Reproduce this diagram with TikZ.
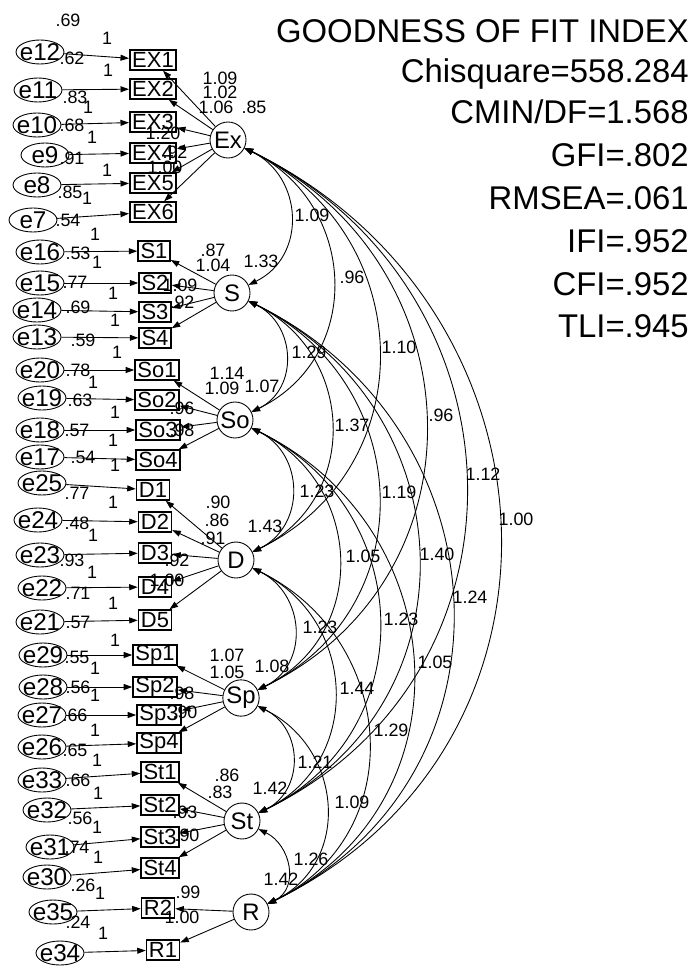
\documentclass[tikz,border=0pt]{standalone}
\usepackage{fontspec}
\setmainfont{Liberation Sans}
\usetikzlibrary{shapes.geometric,arrows.meta}

\begin{document}
\begin{tikzpicture}[
  x=0.02cm, y=0.02cm,
  every node/.style={inner sep=0pt},
  lat/.style={circle, draw, line width=0.5pt, minimum size=0.72cm,
              font=\fontsize{13.6}{14}\selectfont},
  obs/.style={draw, line width=0.9pt, minimum height=0.4cm, minimum width=0.64cm,
              inner xsep=0.05cm, font=\fontsize{12.5}{13}\selectfont},
  err/.style={ellipse, draw, line width=0.5pt, minimum width=0.96cm,
              minimum height=0.48cm, inner xsep=-0.1cm, inner ysep=-0.03cm,
              font=\fontsize{13.8}{14}\selectfont},
  est/.style={font=\fontsize{10.2}{11}\selectfont},
  gof/.style={anchor=base east, font=\fontsize{18.7}{20}\selectfont},
  reg/.style={-{Triangle[length=4.8pt, width=3.4pt]}, line width=0.5pt},
  cov/.style={{Triangle[length=4.8pt, width=3.4pt]}-{Triangle[length=4.8pt, width=3.4pt]},
              line width=0.5pt},
  bow/.style={out=-26, in=26, looseness=1.22},
]
  \useasboundingbox (0,0) rectangle (697,-966);
  % latent variables
  \node[lat] (Ex) at (228,-140) {Ex};
  \node[lat] (S) at (232,-293) {S};
  \node[lat] (So) at (235,-420) {So};
  \node[lat] (D) at (236,-560) {D};
  \node[lat] (Sp) at (241,-698) {Sp};
  \node[lat] (St) at (242,-821) {St};
  \node[lat] (R) at (251,-912) {R};
  % observed variables
  \node[obs] (ex1) at (153,-60) {EX1};
  \node[obs] (ex2) at (153,-89) {EX2};
  \node[obs] (ex3) at (153,-122) {EX3};
  \node[obs] (ex4) at (153,-153) {EX4};
  \node[obs] (ex5) at (153,-183) {EX5};
  \node[obs] (ex6) at (153,-212) {EX6};
  \node[obs] (s1) at (154,-251) {S1};
  \node[obs] (s2) at (155,-283) {S2};
  \node[obs] (s3) at (155,-312) {S3};
  \node[obs] (s4) at (155,-338) {S4};
  \node[obs] (so1) at (157,-370) {So1};
  \node[obs] (so2) at (157,-400) {So2};
  \node[obs] (so3) at (158,-430) {So3};
  \node[obs] (so4) at (158,-460) {So4};
  \node[obs] (d1) at (153,-490) {D1};
  \node[obs] (d2) at (155,-522) {D2};
  \node[obs] (d3) at (155,-553) {D3};
  \node[obs] (d4) at (155,-587) {D4};
  \node[obs] (d5) at (155,-620) {D5};
  \node[obs] (sp1) at (155,-655) {Sp1};
  \node[obs] (sp2) at (155,-687) {Sp2};
  \node[obs] (sp3) at (159,-715) {Sp3};
  \node[obs] (sp4) at (159,-743) {Sp4};
  \node[obs] (st1) at (160,-772) {St1};
  \node[obs] (st2) at (160,-805) {St2};
  \node[obs] (st3) at (160,-837) {St3};
  \node[obs] (st4) at (160,-868) {St4};
  \node[obs] (r2) at (158,-908) {R2};
  \node[obs] (r1) at (163,-950) {R1};
  % error terms
  \node[err] (e12) at (40,-52) {e12};
  \node[err] (e11) at (38,-90) {e11};
  \node[err] (e10) at (37,-125) {e10};
  \node[err] (e9) at (45,-155) {e9};
  \node[err] (e8) at (37,-185) {e8};
  \node[err] (e7) at (33,-220) {e7};
  \node[err] (e16) at (40,-252) {e16};
  \node[err] (e15) at (40,-283) {e15};
  \node[err] (e14) at (37,-310) {e14};
  \node[err] (e13) at (37,-337) {e13};
  \node[err] (e20) at (40,-370) {e20};
  \node[err] (e19) at (42,-398) {e19};
  \node[err] (e18) at (40,-430) {e18};
  \node[err] (e17) at (40,-457) {e17};
  \node[err] (e25) at (42,-483) {e25};
  \node[err] (e24) at (38,-520) {e24};
  \node[err] (e23) at (40,-555) {e23};
  \node[err] (e22) at (42,-588) {e22};
  \node[err] (e21) at (40,-622) {e21};
  \node[err] (e29) at (43,-655) {e29};
  \node[err] (e28) at (43,-687) {e28};
  \node[err] (e27) at (42,-715) {e27};
  \node[err] (e26) at (42,-747) {e26};
  \node[err] (e33) at (42,-780) {e33};
  \node[err] (e32) at (47,-810) {e32};
  \node[err] (e31) at (50,-847) {e31};
  \node[err] (e30) at (47,-877) {e30};
  \node[err] (e35) at (53,-912) {e35};
  \node[err] (e34) at (60,-953) {e34};
  % error paths
  \draw[reg] (e12) -- (ex1);
  \draw[reg] (e11) -- (ex2);
  \draw[reg] (e10) -- (ex3);
  \draw[reg] (e9) -- (ex4);
  \draw[reg] (e8) -- (ex5);
  \draw[reg] (e7) -- (ex6);
  \draw[reg] (e16) -- (s1);
  \draw[reg] (e15) -- (s2);
  \draw[reg] (e14) -- (s3);
  \draw[reg] (e13) -- (s4);
  \draw[reg] (e20) -- (so1);
  \draw[reg] (e19) -- (so2);
  \draw[reg] (e18) -- (so3);
  \draw[reg] (e17) -- (so4);
  \draw[reg] (e25) -- (d1);
  \draw[reg] (e24) -- (d2);
  \draw[reg] (e23) -- (d3);
  \draw[reg] (e22) -- (d4);
  \draw[reg] (e21) -- (d5);
  \draw[reg] (e29) -- (sp1);
  \draw[reg] (e28) -- (sp2);
  \draw[reg] (e27) -- (sp3);
  \draw[reg] (e26) -- (sp4);
  \draw[reg] (e33) -- (st1);
  \draw[reg] (e32) -- (st2);
  \draw[reg] (e31) -- (st3);
  \draw[reg] (e30) -- (st4);
  \draw[reg] (e35) -- (r2);
  \draw[reg] (e34) -- (r1);
  % loadings
  \draw[reg] (Ex) -- (ex1);
  \draw[reg] (Ex) -- (ex2);
  \draw[reg] (Ex) -- (ex3);
  \draw[reg] (Ex) -- (ex4);
  \draw[reg] (Ex) -- (ex5);
  \draw[reg] (Ex) -- (ex6);
  \draw[reg] (S) -- (s1);
  \draw[reg] (S) -- (s2);
  \draw[reg] (S) -- (s3);
  \draw[reg] (S) -- (s4);
  \draw[reg] (So) -- (so1);
  \draw[reg] (So) -- (so2);
  \draw[reg] (So) -- (so3);
  \draw[reg] (So) -- (so4);
  \draw[reg] (D) -- (d1);
  \draw[reg] (D) -- (d2);
  \draw[reg] (D) -- (d3);
  \draw[reg] (D) -- (d4);
  \draw[reg] (D) -- (d5);
  \draw[reg] (Sp) -- (sp1);
  \draw[reg] (Sp) -- (sp2);
  \draw[reg] (Sp) -- (sp3);
  \draw[reg] (Sp) -- (sp4);
  \draw[reg] (St) -- (st1);
  \draw[reg] (St) -- (st2);
  \draw[reg] (St) -- (st3);
  \draw[reg] (St) -- (st4);
  \draw[reg] (R) -- (r2);
  \draw[reg] (R) -- (r1);
  % covariances
  \draw[cov] (Ex) to[bow] (S);
  \draw[cov] (Ex) to[bow] (So);
  \draw[cov] (Ex) to[bow] (D);
  \draw[cov] (Ex) to[bow] (Sp);
  \draw[cov] (Ex) to[bow] (St);
  \draw[cov] (Ex) to[bow] (R);
  \draw[cov] (S) to[bow] (So);
  \draw[cov] (S) to[bow] (D);
  \draw[cov] (S) to[bow] (Sp);
  \draw[cov] (S) to[bow] (St);
  \draw[cov] (S) to[bow] (R);
  \draw[cov] (So) to[bow] (D);
  \draw[cov] (So) to[bow] (Sp);
  \draw[cov] (So) to[bow] (St);
  \draw[cov] (So) to[bow] (R);
  \draw[cov] (D) to[bow] (Sp);
  \draw[cov] (D) to[bow] (St);
  \draw[cov] (D) to[bow] (R);
  \draw[cov] (Sp) to[bow] (St);
  \draw[cov] (Sp) to[bow] (R);
  \draw[cov] (St) to[bow] (R);
  % error variances
  \node[est] (v12) at (68,-20) {.69};
  \node[est] (v11) at (72,-58) {.62};
  \node[est] (v10) at (75,-97) {.83};
  \node[est] (v9) at (72,-125) {.68};
  \node[est] (v8) at (72,-158) {.91};
  \node[est] (v7) at (70,-192) {.85};
  \node[est] (v16) at (68,-220) {.54};
  \node[est] (v15) at (78,-253) {.53};
  \node[est] (v14) at (75,-282) {.77};
  \node[est] (v13) at (78,-307) {.69};
  \node[est] (v20) at (83,-340) {.59};
  \node[est] (v19) at (78,-370) {.78};
  \node[est] (v18) at (80,-400) {.63};
  \node[est] (v17) at (77,-430) {.57};
  \node[est] (v25) at (83,-457) {.54};
  \node[est] (v24) at (77,-493) {.77};
  \node[est] (v23) at (77,-523) {.48};
  \node[est] (v22) at (72,-560) {.93};
  \node[est] (v21) at (78,-593) {.71};
  \node[est] (v29) at (78,-622) {.57};
  \node[est] (v28) at (77,-657) {.55};
  \node[est] (v27) at (78,-687) {.56};
  \node[est] (v26) at (75,-715) {.66};
  \node[est] (v33) at (75,-750) {.65};
  \node[est] (v32) at (78,-780) {.66};
  \node[est] (v31) at (80,-818) {.56};
  \node[est] (v30) at (77,-847) {.74};
  \node[est] (v35) at (83,-885) {.26};
  \node[est] (v34) at (78,-922) {.24};
  % fixed error weights
  \node[est] (w12) at (107,-38) {1};
  \node[est] (w11) at (108,-70) {1};
  \node[est] (w10) at (88,-107) {1};
  \node[est] (w9) at (92,-137) {1};
  \node[est] (w8) at (107,-170) {1};
  \node[est] (w7) at (87,-198) {1};
  \node[est] (w16) at (95,-234) {1};
  \node[est] (w15) at (97,-262) {1};
  \node[est] (w14) at (113,-293) {1};
  \node[est] (w13) at (115,-320) {1};
  \node[est] (w20) at (117,-352) {1};
  \node[est] (w19) at (93,-382) {1};
  \node[est] (w18) at (115,-412) {1};
  \node[est] (w17) at (113,-440) {1};
  \node[est] (w25) at (115,-465) {1};
  \node[est] (w24) at (113,-502) {1};
  \node[est] (w23) at (93,-535) {1};
  \node[est] (w22) at (92,-572) {1};
  \node[est] (w21) at (113,-603) {1};
  \node[est] (w29) at (115,-640) {1};
  \node[est] (w28) at (95,-668) {1};
  \node[est] (w27) at (95,-695) {1};
  \node[est] (w26) at (95,-730) {1};
  \node[est] (w33) at (97,-760) {1};
  \node[est] (w32) at (98,-793) {1};
  \node[est] (w31) at (97,-827) {1};
  \node[est] (w30) at (98,-857) {1};
  \node[est] (w35) at (100,-893) {1};
  \node[est] (w34) at (103,-933) {1};
  % loadings and factor variances
  \node[est] (lex1) at (220,-78) {1.09};
  \node[est] (lex2) at (220,-92) {1.02};
  \node[est] (lex3) at (216,-107) {1.06};
  \node[est] (lex4) at (163,-133) {1.20};
  \node[est] (lex5) at (175,-152) {.92};
  \node[est] (lex6) at (165,-167) {1.00};
  \node[est] (vEx) at (254,-107) {.85};
  \node[est] (ls1) at (213,-250) {.87};
  \node[est] (ls2) at (213,-265) {1.04};
  \node[est] (ls3) at (180,-285) {1.09};
  \node[est] (ls4) at (182,-302) {.92};
  \node[est] (vS) at (261,-261) {1.33};
  \node[est] (lso1) at (227,-373) {1.14};
  \node[est] (lso2) at (222,-388) {1.09};
  \node[est] (lso3) at (182,-408) {.96};
  \node[est] (lso4) at (182,-430) {.98};
  \node[est] (vSo) at (262,-386) {1.07};
  \node[est] (ld1) at (218,-502) {.90};
  \node[est] (ld2) at (217,-520) {.86};
  \node[est] (ld3) at (213,-538) {.91};
  \node[est] (ld4) at (177,-560) {.92};
  \node[est] (ld5) at (167,-580) {1.00};
  \node[est] (vD) at (265,-526) {1.43};
  \node[est] (lsp1) at (227,-655) {1.07};
  \node[est] (lsp2) at (227,-672) {1.05};
  \node[est] (lsp3) at (182,-693) {.98};
  \node[est] (lsp4) at (185,-712) {.90};
  \node[est] (vSp) at (272,-666) {1.08};
  \node[est] (lst1) at (227,-775) {.86};
  \node[est] (lst2) at (220,-792) {.83};
  \node[est] (lst3) at (185,-812) {.93};
  \node[est] (lst4) at (187,-835) {.90};
  \node[est] (vSt) at (270,-788) {1.42};
  \node[est] (lr2) at (188,-892) {.99};
  \node[est] (lr1) at (182,-917) {1.00};
  \node[est] (vR) at (281,-879) {1.42};
  % covariance estimates
  \node[est] (cExS) at (312,-215) {1.09};
  \node[est] (cExSo) at (352,-277) {.96};
  \node[est] (cSSo) at (309,-352) {1.29};
  \node[est] (cExD) at (399,-347) {1.10};
  \node[est] (cSD) at (352,-425) {1.37};
  \node[est] (cExSp) at (441,-415) {.96};
  \node[est] (cSoD) at (317,-491) {1.23};
  \node[est] (cSSp) at (399,-492) {1.19};
  \node[est] (cExSt) at (483,-474) {1.12};
  \node[est] (cExR) at (516,-519) {1.00};
  \node[est] (cSoSp) at (363,-556) {1.05};
  \node[est] (cSSt) at (437,-554) {1.40};
  \node[est] (cSR) at (470,-597) {1.24};
  \node[est] (cDSp) at (320,-627) {1.23};
  \node[est] (cSoSt) at (401,-619) {1.23};
  \node[est] (cSoR) at (435,-662) {1.05};
  \node[est] (cDSt) at (357,-688) {1.44};
  \node[est] (cDR) at (391,-730) {1.29};
  \node[est] (cSpSt) at (315,-762) {1.21};
  \node[est] (cSpR) at (352,-802) {1.09};
  \node[est] (cStR) at (311,-859) {1.26};
  % fit indices
  \node[gof] (g0) at (689,-43) {GOODNESS OF FIT INDEX};
  \node[gof] (g1) at (689,-83) {Chisquare=558.284};
  \node[gof] (g2) at (689,-124) {CMIN/DF=1.568};
  \node[gof] (g3) at (689,-167) {GFI=.802};
  \node[gof] (g4) at (689,-210) {RMSEA=.061};
  \node[gof] (g5) at (689,-252) {IFI=.952};
  \node[gof] (g6) at (689,-295) {CFI=.952};
  \node[gof] (g7) at (689,-337) {TLI=.945};
\end{tikzpicture}
\end{document}
